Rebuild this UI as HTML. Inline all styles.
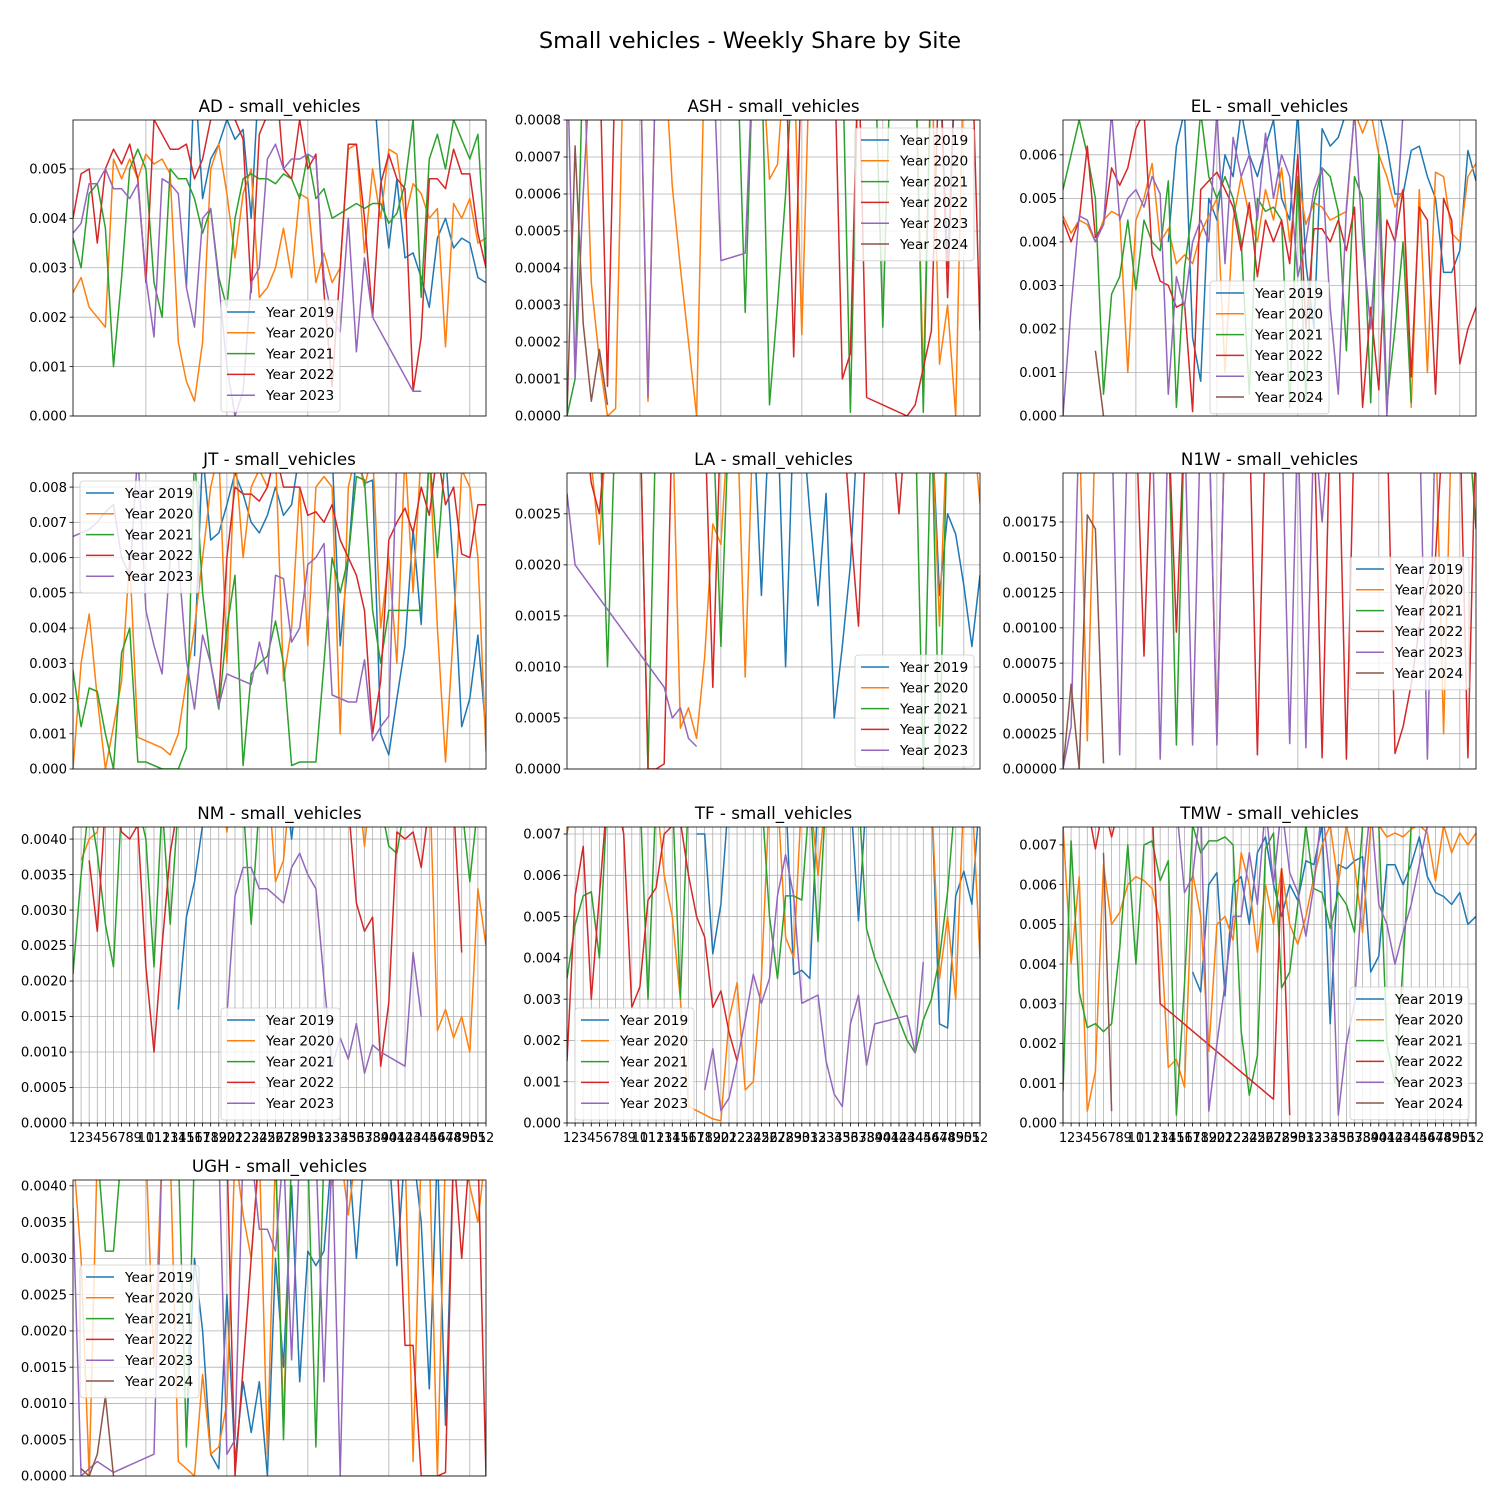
<!DOCTYPE html>
<html><head><meta charset="utf-8"><style>
body{margin:0;background:#fff;}
svg text{font-family:"DejaVu Sans","Liberation Sans",sans-serif;}
</style></head><body>
<svg id="fig" width="1500" height="1500" xmlns="http://www.w3.org/2000/svg">
<rect width="1500" height="1500" fill="#fff"/>
<text x="750" y="48" font-size="22.5" text-anchor="middle">Small vehicles - Weekly Share by Site</text>
</svg>
<script>
const yearLabels = ["Year 2019","Year 2020","Year 2021","Year 2022","Year 2023","Year 2024"];
const colors = ["#1f77b4","#ff7f0e","#2ca02c","#d62728","#9467bd","#8c564b"];
const U=undefined;
const ad2019=[U,U,U,U,U,U,U,U,U,U,U,U,U,U,26,70,44,52,55,60,56,58,40,70,70,70,70,70,70,70,70,70,70,70,70,70,70,70,48,34,48,32,33,28,22,36,40,34,36,35,28,27];
const ad2020=[25,28,22,20,18,52,48,52,48,53,51,52,49,15,7,3,15,50,55,45,32,45,50,24,26,30,38,28,45,44,27,33,27,30,54,55,33,50,40,54,53,40,47,45,40,42,14,43,40,44,35,36];
const ad2021=[36,30,45,47,38,10,28,50,54,50,27,20,50,48,48,44,37,42,28,22,40,48,49,48,48,47,49,48,44,53,44,46,40,41,42,43,42,43,43,39,41,47,60,24,52,57,50,60,56,52,57,30];
const ad2022=[40,49,50,35,50,54,51,55,48,27,60,57,54,54,55,48,52,60,70,70,60,56,25,57,61,70,50,48,60,50,53,25,6,30,55,55,40,20,47,53,48,46,5,16,48,48,46,54,49,49,37,30];
const ad2023=[37,39,47,47,50,46,46,44,47,28,16,48,47,45,26,18,40,42,27,10,0,5,27,30,52,55,50,52,52,53,52,28,20,17,40,13,32,20,U,U,U,U,5,5];
const ash2019=[U,U,U,U,U,U,U,U,U,U,U,U,U,U,U,U,U,U,U,U,U,U,U,U,U,U,U,U,10,10,10,10,10,10,10,10,10,10,10,10,10,10,10,10,10,10,10,4,10,10,10,10];
const ash2020=[10,10,10,3.6,1.5,0,0.2,10,10,10,0.4,10,10,6.2,4,2,0,10,10,10,10,10,10,10,10,6.4,6.8,10,10,2.2,10,10,10,10,10,10,10,10,10,10,10,10,10,10,0.9,10,1.4,3,0,10,10,10];
const ash2021=[0,1,10,10,10,10,10,10,10,10,10,10,10,10,10,10,10,10,10,10,10,10,2.8,10,10,0.3,3,6,10,10,10,10,10,10,10,0.1,10,10,10,2.4,10,10,10,10,0.1,10,10,10,10,10,10,10];
const ash2022=[10,10,10,10,10,0.8,10,10,10,10,10,10,10,10,10,10,10,10,10,10,10,10,10,10,10,10,10,10,1.6,10,10,10,10,10,1,1.7,10,0.5,U,U,U,U,0,0.3,U,2.3,10,3.2,10,10,10,2.3];
const ash2023=[10,1,6,10,10,10,10,10,10,10,0.5,10,10,10,10,10,10,10,10,4.2,U,U,4.4,10];
const ash2024=[0,7.3,2.5,0.4,1.8,0.3];
const el2019=[U,U,U,U,U,U,U,U,U,U,U,U,U,40,62,70,18,8,50,45,60,55,70,60,55,62,68,50,45,70,35,20,66,62,64,70,70,70,70,70,62,51,51,61,62,55,50,33,33,38,61,54];
const el2020=[46,42,45,44,40,45,47,46,10,45,50,58,40,43,35,37,35,42,46,50,10,45,55,46,40,52,45,57,40,55,44,49,48,45,46,47,70,65,70,60,55,48,52,2,52,10,56,55,42,40,55,58];
const el2021=[52,60,68,60,50,5,28,32,45,29,45,40,38,54,2,34,48,70,55,50,55,50,40,5,50,47,48,45,2,55,3,49,57,55,47,15,55,50,3,60,3,20,40,3];
const el2022=[45,40,45,62,41,44,57,53,57,66,70,37,31,30,25,26,1,52,54,56,52,48,38,49,32,45,40,45,35,60,20,43,43,40,45,38,48,2,25,6,45,40,52,9,48,45,5,50,45,12,20,25];
const el2023=[0,25,46,45,40,44,70,45,50,52,48,55,51,5,32,25,40,45,40,70,35,64,55,60,45,65,50,60,55,32,40,52,57,25,5,48,70,40,20,50,0,40,70,70];
const el2024=[U,U,U,U,15,0];
const jt2019=[U,U,U,U,U,U,U,U,U,U,U,U,U,U,U,32,90,65,67,75,84,78,70,67,72,80,72,75,90,90,90,90,90,35,60,90,81,82,10,4,20,35,68,41,90,84,90,56,12,20,38,10];
const jt2020=[0,30,44,20,0,12,25,60,9,8,7,6,4,10,25,40,60,80,90,30,90,60,80,85,80,90,25,40,80,35,80,83,80,10,80,90,80,90,40,60,30,90,50,90,90,40,2,40,85,80,60,5];
const jt2021=[28,12,23,22,10,0,33,40,2,2,1,0,0,0,6,90,50,30,17,40,55,1,27,30,32,42,30,1,2,2,2,30,60,50,60,83,82,45,30,45,45,45,45,45,90,60,90,90,90,90,90,90];
const jt2022=[U,U,U,U,U,U,U,U,U,U,U,U,U,U,U,U,U,U,20,60,80,78,78,76,80,90,80,80,80,72,73,70,75,65,60,55,45,10,25,65,70,74,67,80,72,90,75,80,61,60,75,75];
const jt2023=[66,67,68,70,73,75,60,55,90,45,35,27,60,60,31,17,38,30,18,27,26,25,24,36,27,55,54,36,40,58,60,64,21,20,19,19,31,8,12,15,90,90,90];
const la2019=[U,U,U,U,U,U,U,U,U,U,U,U,U,U,U,U,U,U,U,U,U,U,35,35,17,35,35,10,35,35,25,16,27,5,12,20,35,35,35,35,35,35,35,35,35,35,17,25,23,18,12,19];
const la2020=[35,35,35,30,22,35,35,35,35,35,35,35,35,35,4,6,3,11,24,22,35,35,9,35,35,35,35,35,35,35,35,35,35,35,35,35,35,35,35,35,35,35,35,35,35,35,14,35,35,29,35,26];
const la2021=[35,35,35,35,35,10,35,35,35,35,0,35,35,35,35,35,35,35,35,12,35,35,35,35,35,35,35,35,35,35,35,35,35,35,35,35,35,35,35,35,35,35,35,35,0,35,1,35,35,35,35,35];
const la2022=[35,35,35,28,25,35,35,35,35,35,0,0,0.5,35,35,35,35,35,8,35,35,35,35,35,35,35,35,35,35,35,35,35,35,35,35,24,14,35,35,35,35,25,35,35,35,35,35,35,35,35,35,35];
const la2023=[27,20,U,U,U,U,U,U,U,U,U,U,8,5,6,3,2.2];
const n1w2019=[250,250,250,250,250,250,250,250,250,250,250,250,250,250,250,250,250,250,250,250,250,250,250,250,250,250,250,250,250,250,250,250,250,250,250,250,250,250,250,250,250,250,250,250,250,250,250,250,250,250,250,250];
const n1w2020=[250,250,250,20,250,250,250,250,250,250,250,250,250,250,250,250,250,250,250,250,250,250,250,250,250,250,250,250,250,250,250,250,250,250,250,250,250,250,250,250,250,250,250,250,250,250,250,25,250,250,250,250];
const n1w2021=[250,250,250,250,250,250,250,250,250,250,250,250,250,250,17,250,250,250,250,250,250,250,250,250,250,250,250,250,250,250,250,250,250,250,250,250,250,250,250,250,250,250,250,250,250,250,250,250,250,250,250,170];
const n1w2022=[250,250,250,250,250,250,250,250,250,250,80,250,250,250,97,250,250,250,250,22,250,250,250,250,10,250,250,250,250,250,250,250,8,250,250,7,250,250,250,250,250,11,30,60,100,130,150,250,250,250,8,250];
const n1w2023=[0,30,250,250,250,250,250,10,250,250,250,250,7,250,250,250,17,250,250,17,250,250,250,250,250,250,250,250,18,250,15,250,175,250,250,250,250,250,250,250,250,250,250,250,250,7,250,250,250,250,250,250];
const n1w2024=[0,60,0,180,170,4];
const nm2019=[U,U,U,U,U,U,U,U,U,U,U,U,U,16,29,34,42,50,50,50,50,50,50,50,50,50,50,40,50,50,50,50,50,50,50,50,50,50,50,50,50,50,50,50,50,50,50,50,50,50,50,50];
const nm2020=[U,37,40,41,50,50,50,50,50,50,50,50,50,50,50,50,50,50,50,41,50,50,50,50,50,34,37,50,50,50,50,50,50,50,50,50,39,50,50,50,50,50,50,50,50,13,16,12,15,10,33,25];
const nm2021=[21,35,45,38,28,22,45,45,45,40,22,45,28,45,45,45,45,45,45,45,45,45,28,45,45,45,45,45,45,45,45,45,45,45,45,45,45,45,45,39,38,45,45,45,45,45,45,45,45,34,45,45];
const nm2022=[U,U,37,27,45,45,41,40,42,22,10,25,38,45,45,45,45,45,45,45,45,45,45,45,45,45,45,45,45,45,45,45,45,45,45,31,27,29,8,17,41,40,41,36,45,45,45,45,24];
const nm2023=[U,U,U,U,U,U,U,U,U,U,U,U,U,U,U,U,U,U,U,15,32,36,36,33,33,32,31,36,38,35,33,20,8,12,9,14,7,11,10,U,U,8,24,15];
const tf2019=[U,U,U,U,U,U,U,U,U,U,U,U,U,U,U,U,70,70,41,53,80,80,80,80,80,80,80,80,36,37,35,80,80,80,80,80,49,80,80,80,80,80,80,80,80,80,24,23,55,61,53,80];
const tf2020=[70,80,80,80,80,80,80,80,80,80,80,80,60,50,30,4,3,2,1,0.5,25,34,8,10,35,80,80,45,40,80,80,60,80,80,80,80,80,80,80,80,80,80,80,80,80,80,35,50,30,80,80,40];
const tf2021=[35,48,55,56,40,80,80,80,80,80,30,80,80,80,30,80,80,80,80,80,80,80,80,80,80,50,35,55,55,54,80,44,80,80,80,80,80,47,40,35,30,25,20,17,25,30,40,56,80,80,80,80];
const tf2022=[15,55,67,30,55,80,80,70,28,33,54,57,70,72,73,60,50,45,28,32,22,15];
const tf2023=[U,U,U,U,U,U,U,U,U,U,U,U,U,U,U,U,U,8,18,3,6,15,25,36,29,35,55,65,55,29,30,31,15,7,4,24,31,14,24,U,U,U,26,17,39];
const tmw2019=[U,U,U,U,U,U,U,U,U,U,U,U,U,U,U,U,38,33,60,63,32,60,62,50,68,72,60,52,60,56,66,65,75,25,65,64,66,67,38,42,65,65,60,65,72,62,58,57,55,58,50,52,38];
const tmw2020=[75,40,62,3,13,65,50,53,60,62,61,59,50,14,16,9,63,52,18,50,52,46,68,60,43,60,50,64,50,45,52,62,70,75,60,75,65,48,75,75,72,73,72,74,75,73,61,75,68,73,70,73];
const tmw2021=[8,71,33,24,25,23,25,44,70,40,70,71,61,66,2,35,75,68,71,71,72,70,23,7,17,69,73,34,38,55,75,59,58,49,58,55,48,75,75,75,20,10,40,75];
const tmw2022=[80,80,80,80,69,80,72,80,80,80,80,80,30,U,U,U,U,U,U,U,U,U,U,U,U,U,6,64,2];
const tmw2023=[U,U,U,U,U,U,U,U,U,U,U,U,U,80,80,58,62,80,3,20,35,52,52,68,55,80,60,80,63,58,47,60,80,60,2,20,30,60,80,55,50,40,48,55,65,75];
const tmw2024=[U,U,U,U,U,68,3];
const ugh2019=[U,U,U,U,U,U,U,U,U,U,U,U,U,U,5,30,20,3,1,25,2,13,6,13,0,30,15,40,13,31,29,31,45,45,45,30,45,45,45,45,29,45,45,35,12,45,7,45,45,45,45,45];
const ugh2020=[45,30,0,45,45,45,45,45,45,45,15,45,45,2,1,0,14,3,4,10,45,36,30,45,3,45,7,45,45,45,45,45,40,45,36,45,45,45,45,45,45,45,2,45,45,0,45,45,45,40,35,45];
const ugh2021=[45,45,45,45,31,31,45,45,45,45,45,45,45,45,4,45,45,45,45,45,45,45,45,45,45,45,5,45,45,45,4,45,45,45,45,45,45,45,45,45,45,45,45,45,45,45,45,45,45,45,45,45];
const ugh2022=[45,45,45,45,45,45,45,45,45,45,45,45,45,45,45,45,45,45,45,45,0,15,30,45,45,45,45,45,45,45,45,45,45,45,45,45,45,45,45,45,45,18,18,0,0,0,0.5,45,30,45,45,0];
const ugh2023=[37,0,1,2,U,0.5,U,U,U,U,3,45,45,45,45,45,45,45,45,3,5,45,45,34,34,31,45,16,45,45,45,13,45,0,45,45,45,45,45,45,45,45,45,45,45,45,45,45,45,45,45,45];
const ugh2024=[U,1,0,3,11,0];

const yTicks_AD=[0,10,20,30,40,50], yTicks_ASH=[0,1,2,3,4,5,6,7,8], yTicks_EL=[0,10,20,30,40,50,60],
 yTicks_JT=[0,10,20,30,40,50,60,70,80], yTicks_LA=[0,5,10,15,20,25], yTicks_N1W=[0,25,50,75,100,125,150,175],
 yTicks_NM=[0,5,10,15,20,25,30,35,40], yTicks_TF=[0,10,20,30,40,50,60,70], yTicks_TMW=[0,10,20,30,40,50,60,70], yTicks_UGH=[0,5,10,15,20,25,30,35,40];

const panels=[
 {n:"AD",x:73,y:120,top:59.9,unit:1e-4,dec:3,ticks:yTicks_AD,s:[ad2019,ad2020,ad2021,ad2022,ad2023],lg:[221,300],grid:"s"},
 {n:"ASH",x:567,y:120,top:8,unit:1e-4,dec:4,ticks:yTicks_ASH,s:[ash2019,ash2020,ash2021,ash2022,ash2023,ash2024],lg:[855,128],grid:"s"},
 {n:"EL",x:1063,y:120,top:68,unit:1e-4,dec:3,ticks:yTicks_EL,s:[el2019,el2020,el2021,el2022,el2023,el2024],lg:[1210,281],grid:"s"},
 {n:"JT",x:73,y:473,top:84,unit:1e-4,dec:3,ticks:yTicks_JT,s:[jt2019,jt2020,jt2021,jt2022,jt2023],lg:[80,481],grid:"s"},
 {n:"LA",x:567,y:473,top:29,unit:1e-4,dec:4,ticks:yTicks_LA,s:[la2019,la2020,la2021,la2022,la2023],lg:[855,655],grid:"s"},
 {n:"N1W",x:1063,y:473,top:209.7,unit:1e-5,dec:5,ticks:yTicks_N1W,s:[n1w2019,n1w2020,n1w2021,n1w2022,n1w2023,n1w2024],lg:[1350,557],grid:"s"},
 {n:"NM",x:73,y:827,top:41.7,unit:1e-4,dec:4,ticks:yTicks_NM,s:[nm2019,nm2020,nm2021,nm2022,nm2023],lg:[221,1008],grid:"w",xl:1},
 {n:"TF",x:567,y:827,top:71.7,unit:1e-4,dec:3,ticks:yTicks_TF,s:[tf2019,tf2020,tf2021,tf2022,tf2023],lg:[575,1008],grid:"w",xl:1},
 {n:"TMW",x:1063,y:827,top:74.5,unit:1e-4,dec:3,ticks:yTicks_TMW,s:[tmw2019,tmw2020,tmw2021,tmw2022,tmw2023,tmw2024],lg:[1350,987],grid:"w",xl:1},
 {n:"UGH",x:73,y:1180,top:40.8,unit:1e-4,dec:4,ticks:yTicks_UGH,s:[ugh2019,ugh2020,ugh2021,ugh2022,ugh2023,ugh2024],lg:[80,1265],grid:"s"}
];
const W=413,H=296,NS="http://www.w3.org/2000/svg";
const fig=document.getElementById('fig');
function mk(tag,attrs,parent){const e=document.createElementNS(NS,tag);for(const k in attrs)e.setAttribute(k,attrs[k]);(parent||fig).appendChild(e);return e;}
panels.forEach((p,pi)=>{
 const g=mk('g',{});
 
 
 const xs=w=>p.x+(w-1)/51*W, ys=v=>p.y+H-v/p.top*H;
 const cp=mk('clipPath',{id:'c'+pi},g); mk('rect',{x:p.x,y:p.y,width:W,height:H},cp);
 const gw = p.grid==="w" ? Array.from({length:52},(_,i)=>i+1) : [10,20,30,40,50];
 gw.forEach(w=>{const l=mk('line',{x1:xs(w),x2:xs(w),y1:p.y,y2:p.y+H,stroke:"#b0b0b0","stroke-width":0.8},g);
  
  });
 p.ticks.forEach(t=>{const y=ys(t);
  const l=mk('line',{x1:p.x,x2:p.x+W,y1:y,y2:y,stroke:"#b0b0b0","stroke-width":0.8},g);
  
  
  mk('line',{x1:p.x-3.5,x2:p.x,y1:y,y2:y,stroke:"#000","stroke-width":0.8},g);
  const tx=mk('text',{x:p.x-6,y:y+4.7,"font-size":13.2,"text-anchor":"end"},g);
  tx.textContent=(t*p.unit).toFixed(p.dec);
  
  
 });
 if(p.xl){for(let w=1;w<=52;w++){mk('line',{x1:xs(w),x2:xs(w),y1:p.y+H,y2:p.y+H+3.5,stroke:"#000","stroke-width":0.8},g);
  const tx=mk('text',{x:xs(w),y:p.y+H+19,"font-size":13,"text-anchor":"middle"},g);tx.textContent=w;
  
  }}
 const sg=mk('g',{"clip-path":"url(#c"+pi+")"},g);
 p.s.forEach((arr,si)=>{
  const pts=[];arr.forEach((v,i)=>{if(v!==undefined)pts.push(xs(i+1).toFixed(1)+","+ys(v).toFixed(1));});
  const pl=mk('polyline',{points:pts.join(" "),fill:"none",stroke:colors[si],"stroke-width":1.5,"stroke-linejoin":"round"},sg);
  
  
 });
 mk('rect',{x:p.x,y:p.y,width:W,height:H,fill:"none",stroke:"#000","stroke-width":0.8},g);
 const tt=mk('text',{x:p.x+W/2,y:p.y-8,"font-size":16.7,"text-anchor":"middle"},g);
 tt.textContent=p.n+" - small_vehicles";
 
 
 const lg=mk('g',{},g);
 
 
 const n=p.s.length,lx=p.lg[0],ly=p.lg[1];
 mk('rect',{x:lx,y:ly,width:119,height:n*20.8+8,rx:3,fill:"#fff","fill-opacity":0.8,stroke:"#ccc","stroke-width":0.8},lg);
 for(let i=0;i<n;i++){const cy=ly+12+i*20.8;
  mk('line',{x1:lx+6,x2:lx+34,y1:cy,y2:cy,stroke:colors[i],"stroke-width":1.5},lg);
  const t=mk('text',{x:lx+45,y:cy+4.8,"font-size":13.7},lg);t.textContent=yearLabels[i];
  
  }
});
</script>
</body></html>
